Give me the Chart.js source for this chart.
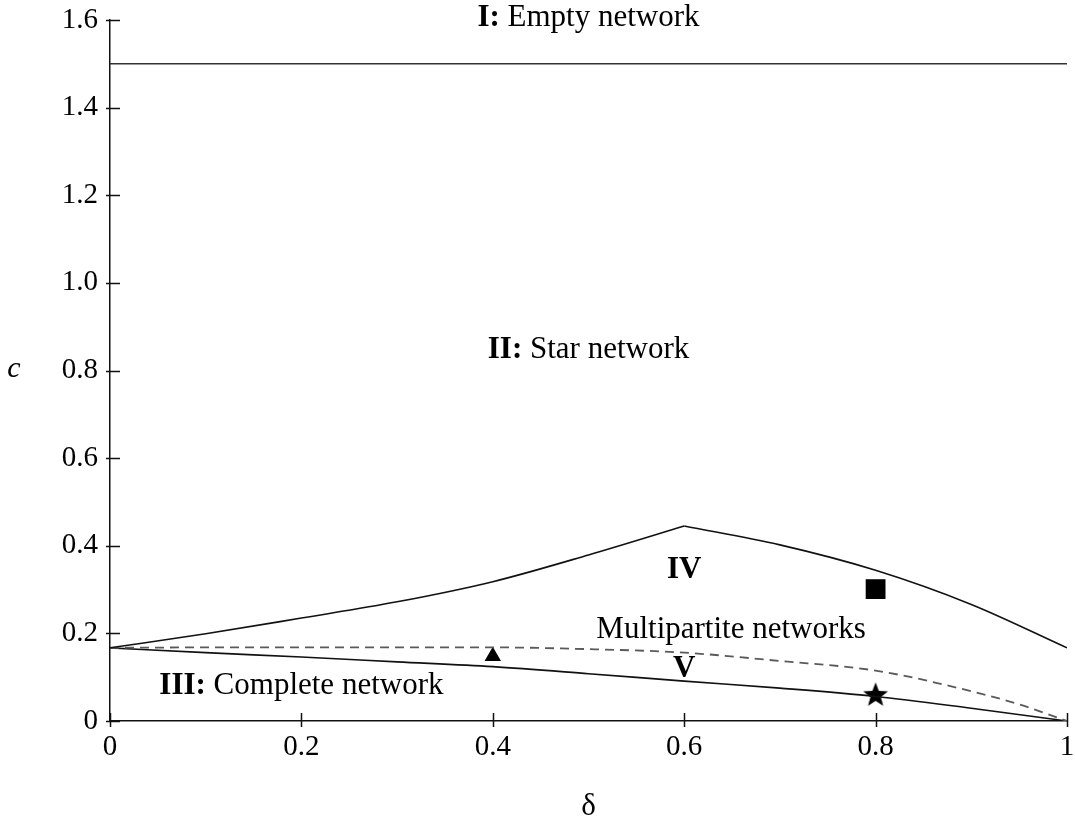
<!DOCTYPE html>
<html>
<head>
<meta charset="utf-8">
<script src="https://cdn.jsdelivr.net/npm/chart.js@4.4.1/dist/chart.umd.min.js"></script>
<style>
  html, body { margin: 0; padding: 0; background: #fff; overflow: hidden; }
  #wrap { width: 1075px; height: 824px; position: relative; }
  canvas { display: block; }
</style>
</head>
<body>
<div id="wrap"><canvas id="chart"></canvas></div>
<script>
// boundary curves (delta, c)
const emptyDelta = [0, 1];
const emptyC = [1.5, 1.5];

const starLeftDelta = [0, 0.1, 0.2, 0.3, 0.4, 0.5, 0.6];
const starLeftC = [0.167, 0.199, 0.235, 0.272, 0.318, 0.379, 0.445];
const starRightDelta = [0.6, 0.7, 0.8, 0.9, 1];
const starRightC = [0.445, 0.402, 0.344, 0.266, 0.167];

const multiDelta = [0, 0.1, 0.2, 0.3, 0.4, 0.5, 0.6, 0.7, 0.8, 0.9, 0.95, 1];
const multiC = [0.167, 0.168, 0.168, 0.168, 0.168, 0.164, 0.156, 0.137, 0.115, 0.068, 0.038, 0];

const completeDelta = [0, 0.1, 0.2, 0.3, 0.4, 0.5, 0.6, 0.7, 0.8, 0.9, 1];
const completeC = [0.167, 0.156, 0.146, 0.135, 0.124, 0.108, 0.091, 0.075, 0.056, 0.029, 0];

// sample points
const triangleAt = [0.4, 0.148];
const squareAt = [0.8, 0.301];
const starAt = [0.8, 0.062];

// axis ticks
const xTicks = [0, 0.2, 0.4, 0.6, 0.8, 1];
const yTicks = [0, 0.2, 0.4, 0.6, 0.8, 1.0, 1.2, 1.4, 1.6];

// region labels (bold part, plain part, anchor in data coords)
const regionLabels = [
    { bold: 'I:', plain: ' Empty network', delta: 0.5, c: 1.587 },
    { bold: 'II:', plain: ' Star network', delta: 0.5, c: 0.829 },
    { bold: 'IV', plain: '', delta: 0.6, c: 0.327 },
    { bold: '', plain: 'Multipartite networks', delta: 0.649, c: 0.189 },
    { bold: 'V', plain: '', delta: 0.6, c: 0.100 },
    { bold: 'III:', plain: ' Complete network', delta: 0.2, c: 0.062 }
];

const FONT = '"Liberation Serif", "Times New Roman", serif';

function toPoints(xs, ys) {
    return xs.map((x, i) => ({ x: x, y: ys[i] }));
}

// filled five-pointed star for the marker
function makeStar(size) {
    const cv = document.createElement('canvas');
    cv.width = size;
    cv.height = size;
    const g = cv.getContext('2d');
    const cx = size / 2, cy = size / 2 + 1.5, R = size / 2, r = R * 0.42;
    g.beginPath();
    for (let i = 0; i < 10; i++) {
        const rad = i % 2 === 0 ? R : r;
        const a = -Math.PI / 2 + i * Math.PI / 5;
        const px = cx + rad * Math.cos(a);
        const py = cy + rad * Math.sin(a);
        if (i === 0) g.moveTo(px, py); else g.lineTo(px, py);
    }
    g.closePath();
    g.fillStyle = '#000';
    g.fill();
    return cv;
}

function lineSet(xs, ys, opts) {
    return Object.assign({
        data: toPoints(xs, ys),
        borderColor: '#111',
        borderWidth: 1.6,
        pointRadius: 0,
        fill: false,
        cubicInterpolationMode: 'monotone'
    }, opts || {});
}

function markerSet(at, style, radius) {
    return {
        type: 'scatter',
        data: [{ x: at[0], y: at[1] }],
        pointStyle: style,
        pointRadius: radius,
        pointBackgroundColor: '#000',
        pointBorderColor: '#000',
        pointBorderWidth: 0,
        showLine: false
    };
}

// tick marks crossing the axes, axis titles and region labels
const decorPlugin = {
    id: 'decor',
    afterDraw(chart) {
        const ctx = chart.ctx;
        const xs = chart.scales.x, ys = chart.scales.y;
        const area = chart.chartArea;
        ctx.save();
        ctx.strokeStyle = '#111';
        ctx.lineWidth = 1.5;
        ctx.beginPath();
        yTicks.forEach(v => {
            const py = Math.round(ys.getPixelForValue(v)) + 0.5;
            ctx.moveTo(area.left - 4, py);
            ctx.lineTo(area.left + 10, py);
        });
        xTicks.forEach(v => {
            const px = Math.round(xs.getPixelForValue(v)) + 0.5;
            ctx.moveTo(px, area.bottom - 8);
            ctx.lineTo(px, area.bottom + 6);
        });
        ctx.stroke();

        ctx.fillStyle = '#000';
        ctx.textBaseline = 'alphabetic';
        ctx.textAlign = 'center';
        ctx.font = 'italic 30px ' + FONT;
        ctx.fillText('c', area.left - 96, (area.top + area.bottom) / 2 + 6);
        ctx.font = '31px ' + FONT;
        ctx.fillText('δ', (area.left + area.right) / 2, area.bottom + 94);

        ctx.textAlign = 'left';
        regionLabels.forEach(lab => {
            const boldFont = 'bold 31px ' + FONT;
            const plainFont = '31px ' + FONT;
            ctx.font = boldFont;
            const wb = lab.bold ? ctx.measureText(lab.bold).width : 0;
            ctx.font = plainFont;
            const wp = lab.plain ? ctx.measureText(lab.plain).width : 0;
            const cx = xs.getPixelForValue(lab.delta);
            const by = ys.getPixelForValue(lab.c);
            let x0 = cx - (wb + wp) / 2;
            if (lab.bold) {
                ctx.font = boldFont;
                ctx.fillText(lab.bold, x0, by);
            }
            if (lab.plain) {
                ctx.font = plainFont;
                ctx.fillText(lab.plain, x0 + wb, by);
            }
        });
        ctx.restore();
    }
};

function fmt(v, axis) {
    if (Math.abs(v) < 1e-9) return '0';
    if (Math.abs(v - 1) < 1e-9 && axis === 'x') return '1';
    return v.toFixed(1);
}

const chart = new Chart(document.getElementById('chart'), {
    type: 'line',
    data: {
        datasets: [
            lineSet(emptyDelta, emptyC, { borderColor: '#333', cubicInterpolationMode: 'default', tension: 0 }),
            lineSet(starLeftDelta, starLeftC),
            lineSet(starRightDelta, starRightC),
            lineSet(multiDelta, multiC, { borderColor: '#5a5a5a', borderWidth: 1.8, borderDash: [9, 6] }),
            lineSet(completeDelta, completeC),
            markerSet(triangleAt, 'triangle', 9.5),
            markerSet(squareAt, 'rect', 14),
            markerSet(starAt, makeStar(26), 13)
        ]
    },
    options: {
        responsive: true,
        maintainAspectRatio: false,
        animation: false,
        events: [],
        layout: { autoPadding: false, padding: { left: 0, right: 8, top: 20, bottom: 0 } },
        plugins: {
            legend: { display: false },
            tooltip: { enabled: false },
            title: { display: false }
        },
        scales: {
            x: {
                type: 'linear',
                min: 0,
                max: 1,
                grid: { display: false, drawTicks: false },
                border: { display: true, color: '#111', width: 1.5 },
                ticks: {
                    stepSize: 0.2,
                    padding: 9,
                    maxRotation: 0,
                    color: '#000',
                    font: { family: FONT, size: 29 },
                    callback: v => fmt(v, 'x')
                },
                afterFit: function(scale) {
                    scale.height = 103;
                    scale.paddingLeft = 0;
                    scale.paddingRight = 0;
                }
            },
            y: {
                type: 'linear',
                min: 0,
                max: 1.6,
                grid: { display: false, drawTicks: false },
                border: { display: true, color: '#111', width: 1.5 },
                ticks: {
                    stepSize: 0.2,
                    padding: 12,
                    color: '#000',
                    font: { family: FONT, size: 29 },
                    callback: v => fmt(v, 'y')
                },
                afterFit: function(scale) {
                    scale.width = 110;
                    scale.paddingTop = 0;
                    scale.paddingBottom = 0;
                }
            }
        }
    },
    plugins: [decorPlugin]
});
</script>
</body>
</html>
